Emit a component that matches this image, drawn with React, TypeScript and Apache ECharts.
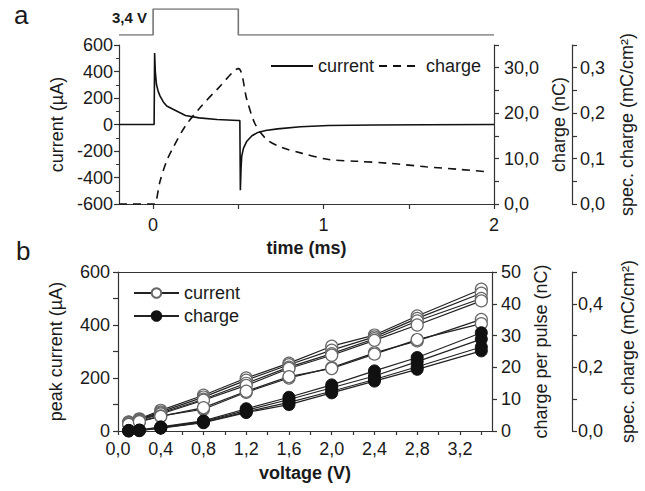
import React, { useEffect, useRef } from "react";
import * as echarts from "echarts";

// ---- Panel a: pulse, current and charge transients ----
const pulseTime = [-0.2, 0, 0, 0.5, 0.5, 2];
const pulseLevel = [0, 0, 1, 1, 0, 0];

const currentTime = [-0.2, 0.006, 0.009, 0.013, 0.02, 0.03, 0.041, 0.06, 0.08, 0.12, 0.19, 0.27, 0.375, 0.5, 0.509, 0.512, 0.516, 0.52, 0.53, 0.55, 0.58, 0.61, 0.66, 0.73, 0.865, 1.03, 1.3, 1.6, 2.0];
const currentVals = [0, 0, 540, 400, 300, 250, 214, 170, 140, 113, 68, 50, 38, 30, 30, -496, -330, -239, -180, -126, -85, -63, -45, -33, -17, -8, -4, -2, 0];

const chargeTime = [-0.2, 0, 0.01, 0.04, 0.08, 0.12, 0.19, 0.28, 0.38, 0.5, 0.55, 0.6, 0.67, 0.76, 0.87, 1.03, 1.2, 1.37, 1.6, 1.8, 1.96];
const chargeVals = [0, 0, 0, 4.9, 9.5, 12.6, 17.2, 21.4, 25.4, 29.8, 23, 17.5, 14.1, 12.4, 11.2, 9.8, 9.4, 9.0, 8.2, 7.6, 7.1];

// ---- Panel b: peak current and charge per pulse vs voltage ----
const voltages = [0.1, 0.2, 0.4, 0.8, 1.2, 1.6, 2.0, 2.4, 2.8, 3.4];
const peakCurrent = [
  [34, 46, 78, 135, 200, 256, 320, 362, 434, 535],
  [32, 44, 72, 128, 192, 250, 305, 355, 425, 520],
  [30, 42, 68, 120, 180, 241, 292, 348, 415, 500],
  [29, 40, 64, 116, 172, 236, 286, 342, 400, 491],
  [26, 36, 57, 82, 146, 200, 239, 295, 340, 421],
  [25, 35, 55, 88, 150, 205, 236, 290, 345, 405],
];
const chargePerPulse = [
  [0.2, 0.3, 1.3, 3.2, 7.0, 10.6, 14.5, 18.9, 23.1, 30.9],
  [0.1, 0.2, 1.1, 3.0, 6.5, 9.9, 13.6, 17.3, 21.8, 28.9],
  [0.1, 0.2, 1.0, 2.8, 6.0, 9.0, 12.5, 16.2, 20.2, 26.4],
  [0.0, 0.1, 0.9, 2.6, 5.8, 8.3, 12.0, 15.7, 19.4, 25.2],
];

const xLabelsA = [0, 1, 2];
const xTicksA = [0, 0.5, 1, 1.5, 2];
const xLabelsB = [0, 0.4, 0.8, 1.2, 1.6, 2.0, 2.4, 2.8, 3.2];
const xTicksB = [0, 0.2, 0.4, 0.6, 0.8, 1.0, 1.2, 1.4, 1.6, 1.8, 2.0, 2.2, 2.4, 2.6, 2.8, 3.0, 3.2, 3.4];

const FONT = "'Liberation Sans', Arial, sans-serif";
const TXT = "#1a1a1a";
const AX = "#333";

const comma1 = (v: number) => v.toFixed(1).replace(".", ",");
const near = (v: number, step: number) => Math.abs(v / step - Math.round(v / step)) < 1e-6;

export default function App() {
  const ref = useRef<HTMLDivElement>(null);
  useEffect(() => {
    document.body.style.margin = "0";
    const chart = echarts.init(ref.current!, null, { renderer: "svg" });

    const axisLine = { show: true, onZero: false, lineStyle: { color: AX, width: 1.2 } };
    const label = (extra: any = {}) => ({ color: TXT, fontSize: 18, fontFamily: FONT, ...extra });
    const tick = (len = 5) => ({ show: true, length: len, lineStyle: { color: AX, width: 1.2 } });
    const nameStyle = { color: TXT, fontSize: 18, fontFamily: FONT };

    const series: any[] = [
      {
        type: "line", name: "pulse", xAxisIndex: 0, yAxisIndex: 0, symbol: "none",
        data: pulseTime.map((t, i) => [t, pulseLevel[i]]),
        lineStyle: { color: "#777", width: 1.6 }, silent: true,
      },
      {
        type: "line", name: "current", xAxisIndex: 1, yAxisIndex: 1, symbol: "none",
        data: currentTime.map((t, i) => [t, currentVals[i]]),
        lineStyle: { color: "#111", width: 1.6 }, itemStyle: { color: "#111" },
      },
      {
        type: "line", name: "charge", xAxisIndex: 1, yAxisIndex: 2, symbol: "none", smooth: 0.3,
        data: chargeTime.map((t, i) => [t, chargeVals[i]]),
        lineStyle: { color: "#111", width: 1.6, type: [8, 6] }, itemStyle: { color: "#111" },
      },
    ];
    peakCurrent.forEach((arr) => {
      series.push({
        type: "line", name: "currentB", xAxisIndex: 2, yAxisIndex: 4,
        symbol: "circle", symbolSize: 12,
        data: voltages.map((v, i) => [v, arr[i]]),
        lineStyle: { color: "#222", width: 1.2 },
        itemStyle: { color: "#fff", borderColor: "#666", borderWidth: 1.2 },
      });
    });
    chargePerPulse.forEach((arr) => {
      series.push({
        type: "line", name: "chargeB", xAxisIndex: 2, yAxisIndex: 5,
        symbol: "circle", symbolSize: 12,
        data: voltages.map((v, i) => [v, arr[i]]),
        lineStyle: { color: "#222", width: 1.2 },
        itemStyle: { color: "#111", borderColor: "#111", borderWidth: 1 },
      });
    });

    chart.setOption({
      animation: false,
      backgroundColor: "#fff",
      textStyle: { fontFamily: FONT },
      grid: [
        { left: 119, right: 151, top: 9, height: 26 },
        { left: 119, right: 151, top: 45, height: 159 },
        { left: 118, right: 152, top: 272, height: 159 },
      ],
      xAxis: [
        { gridIndex: 0, type: "value", min: -0.2, max: 2, show: false },
        {
          gridIndex: 1, type: "value", min: -0.2, max: 2, position: "bottom",
          axisLine, splitLine: { show: false },
          axisTick: { ...tick(5), customValues: xTicksA },
          axisLabel: label({ margin: 12, customValues: xLabelsA }),
          name: "time (ms)", nameLocation: "middle", nameGap: 35,
          nameTextStyle: { ...nameStyle, fontWeight: "bold" },
        },
        {
          gridIndex: 2, type: "value", min: 0, max: 3.5, position: "bottom",
          axisLine, splitLine: { show: false },
          axisTick: { ...tick(4), customValues: xTicksB },
          axisLabel: label({ margin: 9, customValues: xLabelsB, formatter: (v: number) => comma1(v) }),
          name: "voltage (V)", nameLocation: "middle", nameGap: 33,
          nameTextStyle: { ...nameStyle, fontWeight: "bold" },
        },
        {
          gridIndex: 2, type: "value", min: 0, max: 3.5, position: "top",
          axisLine, splitLine: { show: false },
          axisTick: { show: false }, axisLabel: { show: false },
        },
      ],
      yAxis: [
        { gridIndex: 0, type: "value", min: 0, max: 1, show: false },
        {
          gridIndex: 1, type: "value", min: -600, max: 600, interval: 200, position: "left",
          axisLine, splitLine: { show: false },
          axisTick: tick(5),
          minorTick: { show: true, splitNumber: 2, length: 3, lineStyle: { color: AX } },
          axisLabel: label({ margin: 6 }),
          name: "current (µA)", nameLocation: "middle", nameGap: 52, nameTextStyle: nameStyle,
        },
        {
          gridIndex: 1, type: "value", position: "right", min: 0, max: 35, interval: 5,
          axisLine, splitLine: { show: false },
          axisTick: tick(5),
          axisLabel: label({ margin: 10, formatter: (v: number) => (near(v, 10) && v < 35 ? comma1(v) : "") }),
          name: "charge (nC)", nameLocation: "middle", nameGap: 46, nameTextStyle: nameStyle,
        },
        {
          gridIndex: 1, type: "value", position: "right", offset: 78, min: 0, max: 0.35, interval: 0.05,
          axisLine, splitLine: { show: false },
          axisTick: tick(5),
          axisLabel: label({ margin: 8, formatter: (v: number) => (near(v, 0.1) && v < 0.34 ? comma1(v) : "") }),
          name: "spec. charge (mC/cm²)", nameLocation: "middle", nameGap: 46, nameTextStyle: nameStyle,
        },
        {
          gridIndex: 2, type: "value", min: 0, max: 600, interval: 100, position: "left",
          axisLine, splitLine: { show: false },
          axisTick: tick(5),
          axisLabel: label({ margin: 8, formatter: (v: number) => (near(v, 200) ? String(v) : "") }),
          name: "peak current (µA)", nameLocation: "middle", nameGap: 53, nameTextStyle: nameStyle,
        },
        {
          gridIndex: 2, type: "value", position: "right", min: 0, max: 50, interval: 10,
          axisLine, splitLine: { show: false },
          axisTick: tick(5),
          axisLabel: label({ margin: 9 }),
          name: "charge per pulse (nC)", nameLocation: "middle", nameGap: 40, nameTextStyle: nameStyle,
        },
        {
          gridIndex: 2, type: "value", position: "right", offset: 80, min: 0, max: 0.5, interval: 0.1,
          axisLine, splitLine: { show: false },
          axisTick: tick(5),
          axisLabel: label({ margin: 6, formatter: (v: number) => (near(v, 0.2) ? comma1(v) : "") }),
          name: "spec. charge (mC/cm²)", nameLocation: "middle", nameGap: 47, nameTextStyle: nameStyle,
        },
      ],
      legend: [
        {
          data: ["current", "charge"], left: 265, top: 52, itemWidth: 42, itemHeight: 10, itemGap: 4,
          itemStyle: { opacity: 0 },
          textStyle: { color: TXT, fontSize: 18, fontFamily: FONT }, selectedMode: false,
        },
        {
          data: ["currentB", "chargeB"], left: 128, top: 279, orient: "vertical",
          itemWidth: 45, itemHeight: 12, itemGap: 5,
          formatter: (n: string) => (n === "currentB" ? "current" : "charge"),
          textStyle: { color: TXT, fontSize: 18, fontFamily: FONT }, selectedMode: false,
        },
      ],
      graphic: [
        { type: "text", left: 14, top: 2, style: { text: "a", fontSize: 26, fontFamily: FONT, fill: TXT } },
        { type: "text", left: 16, top: 238, style: { text: "b", fontSize: 26, fontFamily: FONT, fill: TXT } },
        { type: "text", left: 112, top: 10, style: { text: "3,4 V", fontSize: 15, fontWeight: "bold", fontFamily: FONT, fill: TXT } },
      ],
      series,
    });
    return () => chart.dispose();
  }, []);
  return <div ref={ref} style={{ width: 645, height: 491 }} />;
}
